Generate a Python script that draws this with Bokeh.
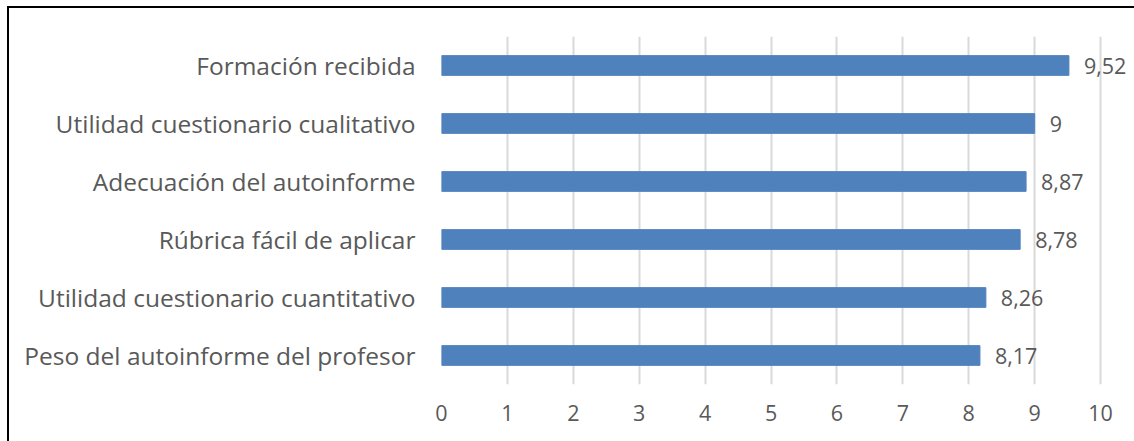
from bokeh.plotting import figure
from bokeh.models import ColumnDataSource, LabelSet, FixedTicker
from bokeh.core.properties import value
from bokeh.embed import file_html
from bokeh.resources import INLINE

categories = [
    "Peso del autoinforme del profesor",
    "Utilidad cuestionario cuantitativo",
    "Rúbrica fácil de aplicar",
    "Adecuación del autoinforme",
    "Utilidad cuestionario cualitativo",
    "Formación recibida",
]
values = [8.17, 8.26, 8.78, 8.87, 9.0, 9.52]
value_labels = ["8,17", "8,26", "8,78", "8,87", "9", "9,52"]
x_ticks = [0, 1, 2, 3, 4, 5, 6, 7, 8, 9, 10]

FONT = "Open Sans"
TEXT = "#595959"

src = ColumnDataSource(dict(cat=categories, val=values, lab=value_labels))

p = figure(
    width=1125, height=433,
    y_range=categories, x_range=(0, 10.5),
    output_backend="svg", toolbar_location=None,
    min_border_left=432, min_border_right=1,
    min_border_top=28, min_border_bottom=57,
    margin=(8, 0, 0, 9),
)
p.styles = {"outline": "2px solid black"}
p.outline_line_color = None
p.y_range.range_padding = 0

p.hbar(y="cat", right="val", left=0, height=0.34, source=src,
       fill_color="#4F81BD", line_color="#4F81BD")

labels = LabelSet(x="val", y="cat", text="lab", source=src,
                  x_offset=15, text_baseline="middle", text_align="left",
                  text_font=value(FONT), text_font_size=value("21.5px"),
                  text_color=TEXT)
p.add_layout(labels)

p.xgrid.ticker = FixedTicker(ticks=x_ticks)
p.xgrid.grid_line_color = "#D9D9D9"
p.xgrid.grid_line_width = 2
p.ygrid.grid_line_color = None

p.xaxis.ticker = FixedTicker(ticks=x_ticks)
p.xaxis.axis_line_color = None
p.xaxis.major_tick_line_color = None
p.xaxis.minor_tick_line_color = None
p.xaxis.major_tick_out = 0
p.xaxis.major_tick_in = 0
p.xaxis.major_label_standoff = 20
p.xaxis.major_label_text_font = FONT
p.xaxis.major_label_text_font_size = "21.5px"
p.xaxis.major_label_text_color = TEXT

p.yaxis.axis_line_color = None
p.yaxis.major_tick_line_color = None
p.yaxis.minor_tick_line_color = None
p.yaxis.major_tick_out = 0
p.yaxis.major_tick_in = 0
p.yaxis.major_label_standoff = 26
p.yaxis.major_label_text_font = FONT
p.yaxis.major_label_text_font_size = "24.5px"
p.yaxis.major_label_text_color = TEXT

open("out.html", "w").write(file_html(p, INLINE))
